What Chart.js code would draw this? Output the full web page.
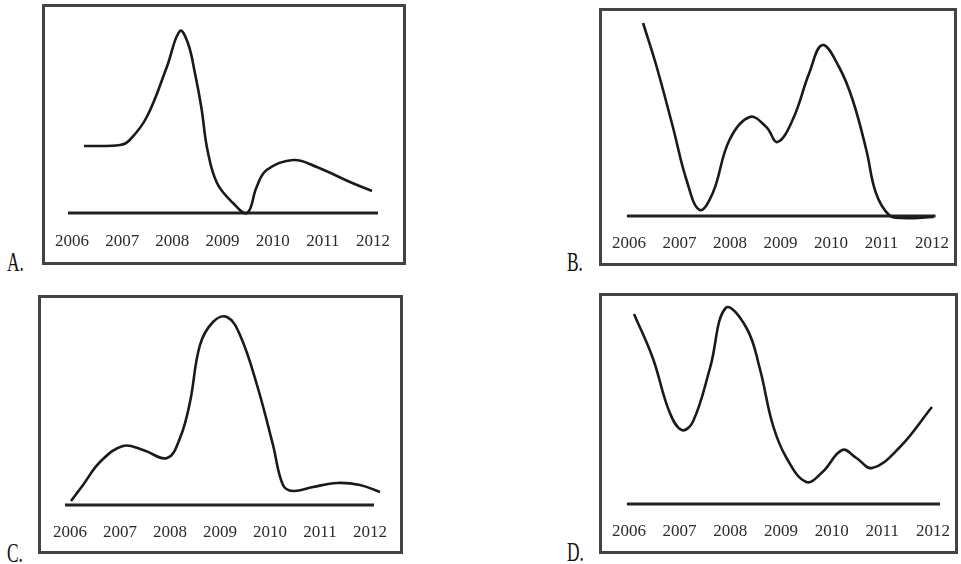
<!DOCTYPE html>
<html>
<head>
<meta charset="utf-8">
<script src="https://cdn.jsdelivr.net/npm/chart.js@4/dist/chart.umd.min.js"></script>
<style>
  html, body { margin: 0; padding: 0; background: #fff; }
  body { width: 961px; height: 564px; position: relative; overflow: hidden; }
  .box { position: absolute; border: 3px solid #444; box-sizing: border-box; }
  canvas { position: absolute; }
  .tag { position: absolute; font-family: "Liberation Serif", serif; font-size: 28px; line-height: 28px;
         color: #111; transform: scaleX(0.62); transform-origin: left top; white-space: nowrap; }
</style>
</head>
<body>
<script>
// tick labels
const years = [2006, 2007, 2008, 2009, 2010, 2011, 2012]

// curve A
const aX = [2006.24, 2006.96, 2007.15, 2007.49, 2007.89, 2008.15, 2008.31, 2008.45, 2008.58, 2008.7, 2008.89, 2009.21, 2009.49, 2009.68, 2009.88, 2010.41, 2010.88, 2011.54, 2011.98]
const aY = [67, 68, 73, 96, 146, 182, 170, 140, 105, 63, 30, 10, 0, 26, 43, 53, 46, 31, 22]

// curve B
const bX = [2006.28, 2006.55, 2006.87, 2007.14, 2007.40, 2007.66, 2007.99, 2008.39, 2008.72, 2008.94, 2009.24, 2009.57, 2009.83, 2010.16, 2010.43, 2010.70, 2010.89, 2011.15, 2011.40, 2012.03]
const bY = [193, 149, 89, 36, 6, 23, 76, 99, 89, 74, 96, 143, 171, 149, 116, 66, 23, 1, -2, -1]

// curve C
const cX = [2006.02, 2006.26, 2006.6, 2007.06, 2007.46, 2007.94, 2008.2, 2008.4, 2008.6, 2008.86, 2009.14, 2009.4, 2009.74, 2010.06, 2010.26, 2010.46, 2010.86, 2011.34, 2011.8, 2012.2]
const cY = [4, 20, 43, 59, 55, 47, 67, 103, 160, 183, 188, 170, 120, 60, 20, 14, 18, 22, 20, 13]

// curve D
const dX = [2006.1, 2006.47, 2006.8, 2007.04, 2007.26, 2007.6, 2007.91, 2008.32, 2008.58, 2008.84, 2009.11, 2009.5, 2009.82, 2010.21, 2010.49, 2010.8, 2011.33, 2011.98]
const dY = [190, 146, 92, 74, 82, 136, 196, 176, 136, 79, 46, 22, 32, 54, 46, 36, 56, 97]

// baseline ends (years)
const baseA = [2005.92, 2012.1]
const baseB = [2005.96, 2012.07]
const baseC = [2005.9, 2012.08]
const baseD = [2005.96, 2012.14]

const tags = ["A.", "B.", "C.", "D."]

const xMin = 2005.6, xMax = 2012.4, yMin = -10, yMax = 205

// box rect, baseline y, x of 2006, px per year, label centre y, tag pos
const panels = [
  { box: [42, 4, 364, 261], base: 213, x0: 72, sp: 50.17, labY: 242, tag: [7, 248], xs: aX, ys: aY, line: baseA },
  { box: [599, 8, 358, 258], base: 216, x0: 629, sp: 50.7, labY: 244, tag: [567, 248], xs: bX, ys: bY, line: baseB },
  { box: [38, 295, 365, 259], base: 505, x0: 70, sp: 50, labY: 533, tag: [7, 539], xs: cX, ys: cY, line: baseC },
  { box: [599, 293, 359, 261], base: 504, x0: 629, sp: 50.8, labY: 532, tag: [567, 538], xs: dX, ys: dY, line: baseD },
]

const fontSize = 17

panels.forEach((p, i) => {
  const [L, T, W, H] = p.box
  const div = document.createElement("div")
  div.className = "box"
  Object.assign(div.style, { left: L + "px", top: T + "px", width: W + "px", height: H + "px" })
  document.body.appendChild(div)

  const tag = document.createElement("div")
  tag.className = "tag"
  tag.textContent = tags[i]
  tag.style.left = p.tag[0] + "px"
  tag.style.top = p.tag[1] + "px"
  document.body.appendChild(tag)

  const canvas = document.createElement("canvas")
  canvas.width = W
  canvas.height = H
  Object.assign(canvas.style, { left: L + "px", top: T + "px", width: W + "px", height: H + "px" })
  document.body.appendChild(canvas)

  const chartTop = p.base - yMax
  const chartBottom = p.base - yMin
  const chartLeft = p.x0 - (2006 - xMin) * p.sp
  const chartRight = p.x0 + (xMax - 2006) * p.sp
  const axisH = T + H - chartBottom
  const tickPad = p.labY - chartBottom - (fontSize * 1.2) / 2

  new Chart(canvas, {
    type: "line",
    data: {
      datasets: [
        {
          data: p.xs.map((x, k) => ({ x: x, y: p.ys[k] })),
          borderColor: "#1a1a1a",
          borderWidth: 2.6,
          pointRadius: 0,
          tension: 0.4,
          clip: false,
        },
        {
          data: p.line.map((x) => ({ x: x, y: 0 })),
          borderColor: "#222",
          borderWidth: 3,
          pointRadius: 0,
          clip: false,
        },
      ],
    },
    options: {
      responsive: false,
      animation: false,
      events: [],
      layout: {
        padding: { top: chartTop - T, left: chartLeft - L, right: L + W - chartRight, bottom: 0 },
      },
      plugins: { legend: { display: false }, tooltip: { enabled: false } },
      scales: {
        x: {
          type: "linear",
          min: xMin,
          max: xMax,
          grid: { display: false, drawTicks: false },
          border: { display: false },
          afterFit: (s) => { s.height = axisH },
          afterBuildTicks: (s) => { s.ticks = years.map((v) => ({ value: v })) },
          ticks: {
            padding: tickPad,
            maxRotation: 0,
            autoSkip: false,
            color: "#2b2b2b",
            font: { family: "Liberation Serif", size: fontSize },
            callback: (v) => String(v),
          },
        },
        y: { display: false, min: yMin, max: yMax },
      },
    },
  })
})
</script>
</body>
</html>
